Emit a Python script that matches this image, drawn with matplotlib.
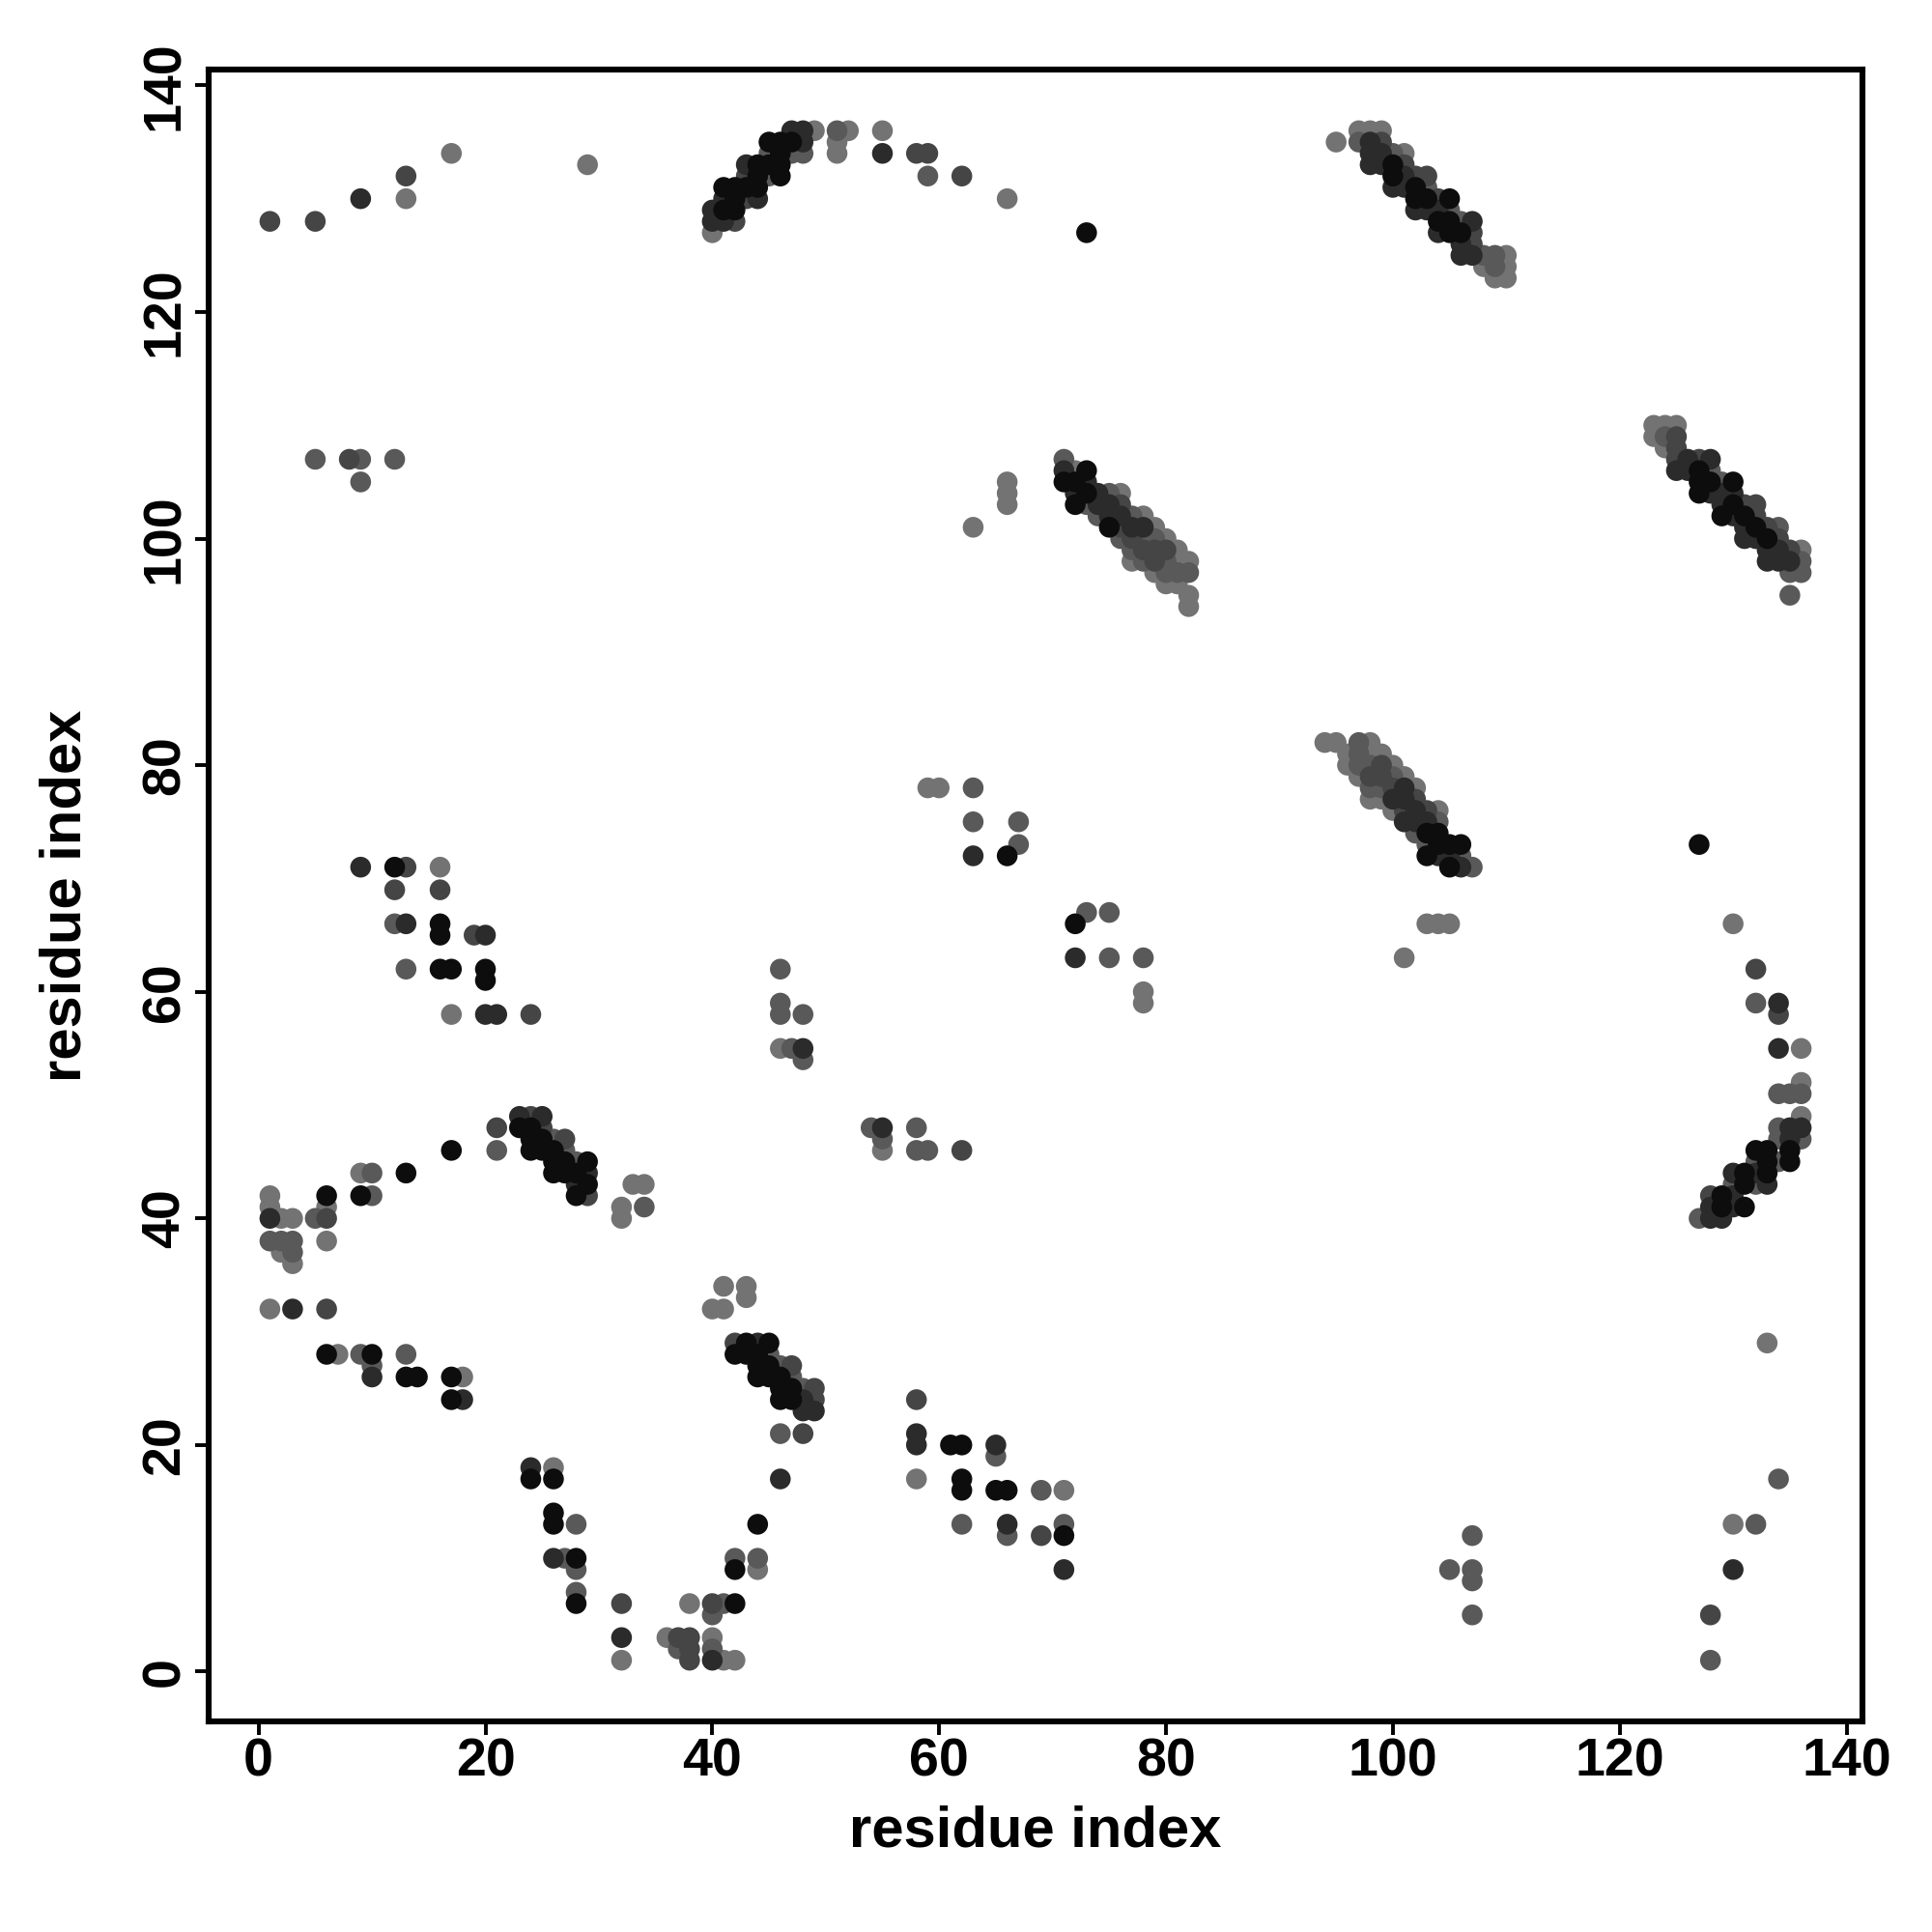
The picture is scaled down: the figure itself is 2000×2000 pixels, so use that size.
import matplotlib
matplotlib.use("Agg")
import matplotlib.pyplot as plt
import numpy as np

# grey levels used for the contact strength
K, D, M, G, L = 0.05, 0.17, 0.27, 0.35, 0.45

# contacts as (residue i, residue j, grey) grouped by region
top_left = [(1,128,M),(5,128,M),(9,130,D),(13,132,M),(13,130,L),(17,134,L),(29,133,L),
            (5,107,G),(8,107,M),(9,107,G),(12,107,G),(9,105,G)]

top_arc = [(40,127,L),(40,128,D),(40,129,D),(41,128,D),(41,129,K),(41,130,D),(41,131,K),(42,128,M),
           (42,129,K),(42,130,K),(42,131,K),(43,130,M),(43,131,K),(43,132,M),(43,133,D),(44,130,D),
           (44,131,K),(44,132,K),(44,133,K),(45,132,G),(45,133,K),(45,134,G),(45,135,K),(46,132,K),
           (46,133,K),(46,134,K),(46,135,K),(47,134,G),(47,135,K),(47,136,D),(48,134,G),(48,135,D),
           (48,136,D),(49,136,L),(51,136,G),(51,135,L),(51,134,L),(52,136,L),(55,136,L),(55,134,D),
           (58,134,M),(59,134,M),(59,132,G),(62,132,M),(66,130,L),(73,127,K)]

top_right = [(95,135,L),(97,136,L),(98,136,L),(99,136,L),(97,135,G),(98,135,D),(99,135,M),(98,134,D),
             (98,133,D),(99,134,D),(99,133,D),(100,134,G),(101,134,L),(100,133,K),(101,133,M),(100,132,K),
             (100,131,D),(101,132,D),(101,131,D),(102,132,M),(103,132,M),(103,131,G),(102,131,K),(102,130,K),
             (102,129,D),(103,130,K),(103,129,D),(104,130,M),(105,130,K),(104,129,D),(104,128,K),(104,127,D),
             (105,129,G),(105,128,K),(105,127,K),(106,128,G),(107,128,D),(106,127,K),(106,126,D),(106,125,D),
             (107,127,M),(107,126,M),(107,125,D),(108,125,G),(108,124,L),(109,125,G),(109,124,G),(109,123,L),
             (110,125,L),(110,124,L),(110,123,L)]

mid_upper = [(63,101,L),(66,105,L),(66,104,L),(66,103,L),(71,107,G),(71,106,D),(71,105,K),(72,106,L),
             (73,106,K),(72,105,K),(72,104,D),(72,103,K),(73,105,D),(73,104,K),(73,103,G),(74,104,D),
             (74,103,D),(74,102,G),(75,104,G),(76,104,L),(75,103,D),(75,102,D),(75,101,K),(76,103,M),
             (76,102,D),(76,101,M),(76,100,G),(77,102,G),(77,101,D),(77,100,M),(77,99,G),(77,98,L),
             (78,102,L),(78,101,D),(78,100,G),(78,99,M),(78,98,G),(79,101,L),(79,100,G),(79,99,M),
             (79,98,M),(79,97,L),(80,100,L),(80,99,M),(80,98,G),(80,97,G),(80,96,L),(81,99,L),
             (81,98,L),(81,97,G),(81,96,L),(82,98,L),(82,97,G),(82,95,L),(82,94,L)]

right_upper = [(123,110,L),(124,110,L),(125,110,L),(123,109,L),(124,109,G),(125,109,M),(124,108,L),
               (125,108,M),(125,107,M),(125,106,D),(126,107,D),(127,107,M),(128,107,D),(126,106,D),
               (127,106,K),(128,106,G),(127,105,K),(127,104,K),(128,105,K),(128,104,D),(129,105,G),
               (130,105,K),(129,104,D),(129,103,D),(129,102,K),(130,104,D),(130,103,K),(130,102,D),
               (131,103,M),(132,103,M),(131,102,K),(131,101,D),(131,100,D),(132,102,M),(132,101,K),
               (132,100,D),(133,101,M),(134,101,G),(133,100,K),(133,99,D),(133,98,D),(134,100,M),
               (134,99,D),(134,98,D),(135,99,M),(135,98,D),(135,97,G),(136,99,L),(136,98,G),(136,97,G),
               (135,95,G)]

mid_right = [(94,82,L),(95,82,L),(97,82,G),(98,82,L),(96,81,L),(97,81,G),(98,81,L),(99,81,L),(96,80,L),
             (97,80,G),(98,80,G),(99,80,M),(100,80,L),(97,79,L),(98,79,M),(99,79,M),(100,79,G),(101,79,L),
             (98,78,G),(99,78,G),(100,78,M),(101,78,D),(102,78,L),(98,77,L),(99,77,L),(100,77,D),
             (101,77,D),(102,77,M),(100,76,L),(101,76,M),(102,76,D),(103,76,M),(104,76,L),(101,75,D),
             (102,75,D),(103,75,D),(104,75,G),(102,74,G),(103,74,K),(104,74,K),(103,73,G),(104,73,K),
             (105,73,K),(106,73,K),(103,72,K),(104,72,D),(105,72,D),(106,72,G),(105,71,K),(106,71,D),
             (107,71,G),(103,66,L),(104,66,L),(105,66,L),(101,63,L)]

left_mid = [(9,71,D),(12,71,K),(13,71,M),(16,71,L),(12,69,M),(16,69,M),(12,66,G),(13,66,D),(16,66,K),
            (16,65,K),(19,65,M),(20,65,D),(13,62,G),(16,62,K),(17,62,K),(20,62,K),(20,61,K),(17,58,L),
            (20,58,D),(21,58,D),(24,58,M),
            (23,49,D),(24,49,M),(25,49,D),(21,48,M),(23,48,K),(24,48,K),(25,48,M),(24,47,K),(25,47,K),
            (26,47,G),(27,47,M),(21,46,G),(24,46,K),(25,46,K),(26,46,K),(27,46,G),(17,46,K),(26,45,K),
            (27,45,K),(28,45,G),(29,45,K),(26,44,K),(27,44,K),(28,44,K),(29,44,D),(28,43,D),(29,43,K),
            (28,42,K),(29,42,M),(13,44,K),(9,44,L),(10,44,G),(9,42,K),(10,42,G),(33,43,L),(34,43,L),
            (32,41,L),(32,40,L),(34,41,G),
            (1,42,L),(1,41,L),(1,40,D),(2,40,L),(3,40,L),(5,40,G),(6,42,K),(6,41,L),(6,40,M),(1,38,G),
            (2,38,G),(3,38,G),(2,37,L),(3,37,G),(3,36,L),(6,38,L)]

centre = [(46,62,G),(46,59,G),(46,58,G),(48,58,G),(46,55,L),(47,55,G),(48,55,D),(48,54,G),(59,78,L),
          (60,78,L),(63,78,G),(63,75,G),(67,75,G),(67,73,G),(63,72,D),(66,72,K),(73,67,G),(75,67,G),
          (72,66,K),(72,63,D),(75,63,G),(78,63,G),(78,60,L),(78,59,L),(54,48,G),(55,48,D),(55,47,G),
          (55,46,L),(58,48,G),(58,46,G),(59,46,G),(62,46,M)]

bottom_left = [(1,32,L),(3,32,D),(6,32,M),(6,28,K),(7,28,L),(9,28,G),(10,28,K),(10,27,G),(10,26,D),
               (13,28,G),(13,26,K),(14,26,K),(17,26,K),(18,26,L),(17,24,K),(18,24,D),
               (41,34,L),(43,34,L),(43,33,L),(40,32,L),(41,32,L),
               (42,29,M),(43,29,K),(44,29,D),(45,29,K),(42,28,K),(43,28,K),(44,28,K),(45,28,G),(44,27,K),
               (45,27,K),(46,27,G),(47,27,M),(44,26,K),(45,26,K),(46,26,K),(47,26,G),(46,25,K),(47,25,K),
               (48,25,G),(49,25,M),(46,24,K),(47,24,K),(48,24,D),(49,24,M),(48,23,D),(49,23,D),(46,21,G),
               (48,21,M),(46,17,D),
               (24,18,D),(24,17,K),(26,18,L),(26,17,K),(26,14,K),(26,13,K),(28,13,G),(26,10,D),(27,10,G),
               (28,10,K),(28,9,G),(28,7,G),(28,6,K),(32,6,M),(32,3,D),(32,1,L),(44,13,K),(42,10,G),
               (44,10,G),(42,9,K),(44,9,L),(38,6,L),(40,6,M),(41,6,G),(42,6,K),(40,5,G),(36,3,L),(37,3,M),
               (38,3,M),(40,3,L),(37,2,G),(38,2,M),(40,2,G),(38,1,M),(40,1,D),(41,1,L),(42,1,L)]

bottom_mid = [(58,24,M),(58,21,D),(58,20,D),(61,20,K),(62,20,K),(65,20,D),(65,19,G),(58,17,L),(62,17,K),
              (62,16,K),(65,16,K),(66,16,K),(69,16,G),(71,16,L),(62,13,G),(66,13,D),(66,12,G),(69,12,M),
              (71,13,G),(71,12,K),(71,9,D),(107,12,G),(105,9,G),(107,9,G),(107,8,G),(107,5,G)]

right_lower = [(127,73,K),(130,66,L),(132,62,M),(132,59,G),(134,59,D),(134,58,M),(134,55,D),(136,55,L),
               (134,51,G),(135,51,G),(136,52,L),(136,51,G),(136,49,L),(136,48,D),(136,47,G),(134,48,G),
               (135,48,D),(134,47,G),(135,47,D),(134,45,G),(135,46,K),(135,45,K),(132,46,K),(133,46,K),
               (132,45,G),(133,45,K),(132,44,D),(133,44,K),(130,44,D),(131,44,K),(130,43,G),(131,43,K),
               (132,43,G),(133,43,D),(128,42,M),(129,42,K),(130,42,D),(131,41,K),(128,41,D),(129,41,K),
               (130,41,D),(127,40,G),(128,40,D),(129,40,D),(133,29,L),(134,17,G),(130,13,L),(132,13,G),
               (130,9,D),(128,5,M),(128,1,G)]

contacts = np.array(top_left + top_arc + top_right + mid_upper + right_upper + mid_right
                    + left_mid + centre + bottom_left + bottom_mid + right_lower)
# lighter contacts first so the strong ones sit on top
contacts = contacts[np.argsort(-contacts[:, 2], kind="stable")]

plt.rcParams['font.family'] = ['Liberation Sans', 'DejaVu Sans']
plt.rcParams['font.weight'] = 'bold'

fig = plt.figure(figsize=(10, 10), dpi=200)
ax = fig.add_axes([0.108, 0.109, 0.856, 0.855])

ax.scatter(contacts[:, 0], contacts[:, 1], s=60,
           c=[str(g) for g in contacts[:, 2]], edgecolors='none')

ax.set_xlim(-4.4, 141.4)
ax.set_ylim(-4.4, 141.4)
ticks = np.arange(0, 141, 20)
ax.set_xticks(ticks)
ax.set_yticks(ticks)
ax.tick_params(direction='out', length=5, width=1.4, labelsize=20)
ax.tick_params(axis='x', pad=1)
ax.tick_params(axis='y', pad=1.7)
for lab in ax.get_yticklabels():
    lab.set_rotation(90)
    lab.set_va('center')
for sp in ax.spines.values():
    sp.set_linewidth(2.2)

ax.set_xlabel("residue index", fontsize=21.5, fontweight='bold', labelpad=6.5)
ax.set_ylabel("residue index", fontsize=21.5, fontweight='bold', labelpad=18)

fig.savefig("out.png", dpi=200, facecolor='white')
